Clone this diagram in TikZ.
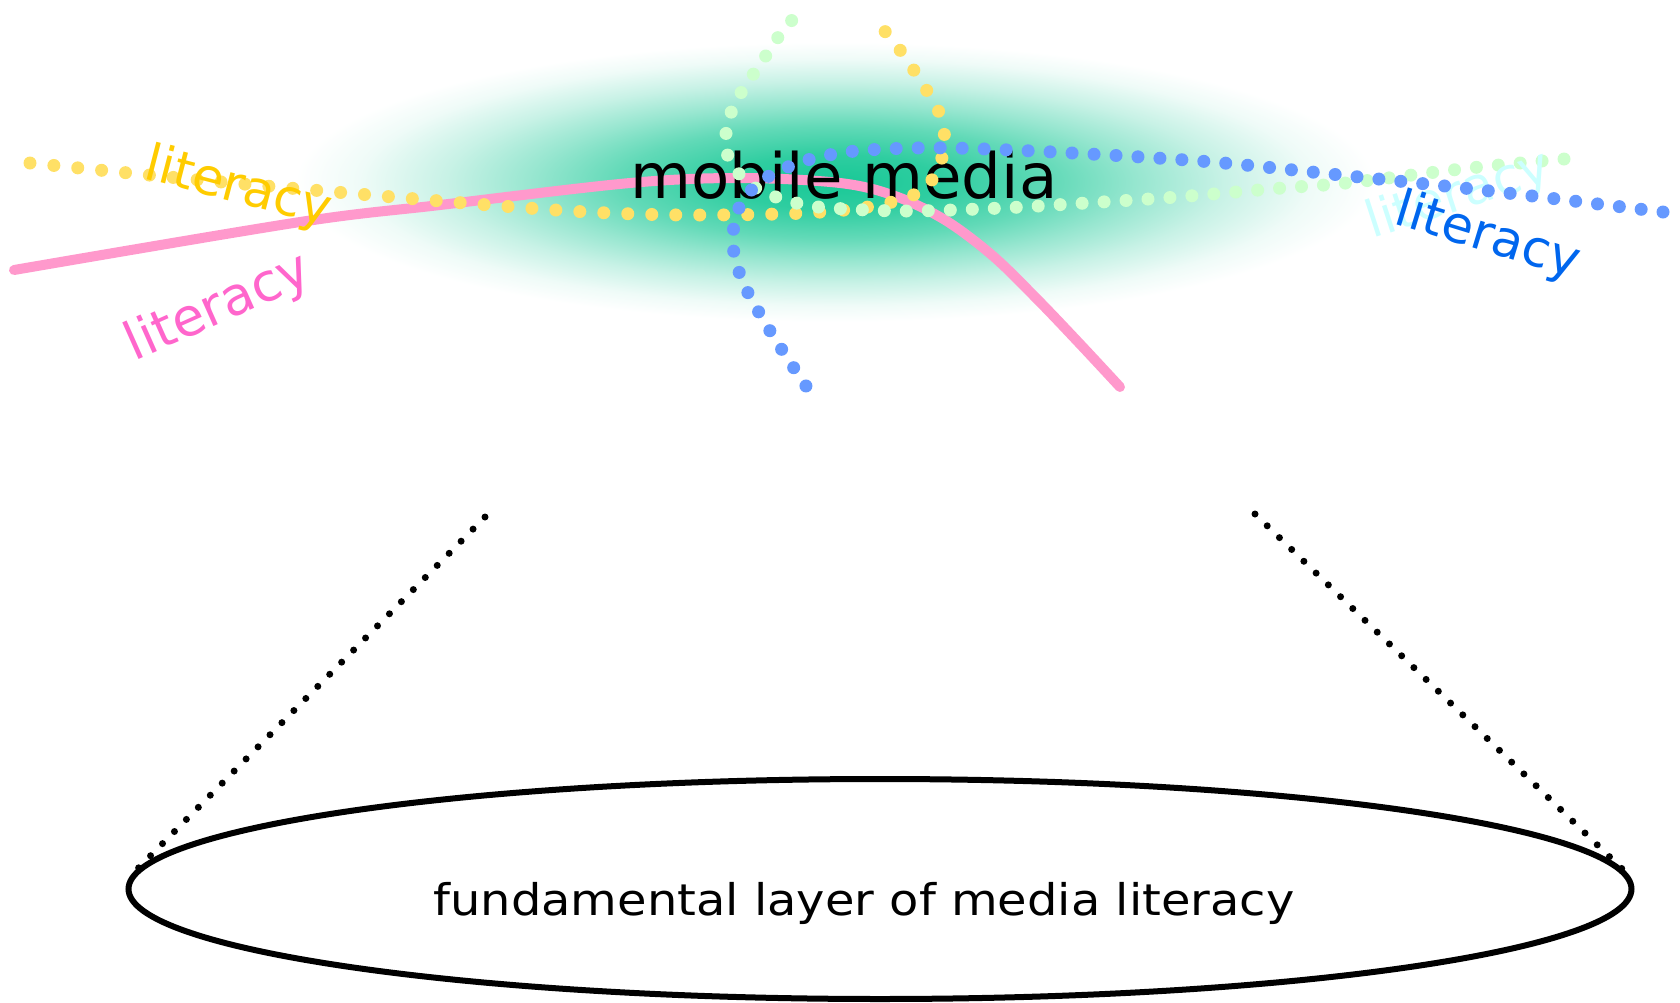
\documentclass[tikz,border=0pt]{standalone}
\usepackage{fontspec}
\setmainfont{DejaVu Sans}
\usetikzlibrary{shapes.geometric}

\definecolor{glowc}{RGB}{24,200,150}
\definecolor{pinkline}{HTML}{FF99CC}
\definecolor{pinktext}{HTML}{FF66CC}
\definecolor{yellowdot}{HTML}{FFE066}
\definecolor{yellowtext}{HTML}{FFCC00}
\definecolor{bluedot}{HTML}{6699FF}
\definecolor{bluetext}{HTML}{0066EE}
\definecolor{greendot}{HTML}{CCFFCC}
\definecolor{cyantext}{HTML}{CCFFFF}

% soft teal halo behind the title (fades out by 25bp, the path edge)
\pgfdeclareradialshading{glowshade}{\pgfpoint{0bp}{0bp}}{%
  color(0bp)=(glowc); color(5bp)=(glowc!90!white); color(10bp)=(glowc!68!white);
  color(14bp)=(glowc!45!white); color(18bp)=(glowc!24!white);
  color(22bp)=(glowc!7!white); color(25bp)=(white); color(50bp)=(white)}

\tikzset{
  dotline/.style={line cap=round, line width=1.3mm, dash pattern=on 0pt off #1},
  strand/.style={smooth, tension=0.55},
  lit/.style={font=\fontsize{14.5}{17}\selectfont, anchor=base west, inner sep=0pt},
  blackdots/.style={line cap=round, line width=0.7mm, dash pattern=on 0pt off 1.7mm},
}

\begin{document}
\begin{tikzpicture}[x=0.1mm, y=-0.1mm]
\useasboundingbox (0,0) rectangle (1680,1003);

% halo
\shade[shading=glowshade] (835,182) ellipse [x radius=54mm, y radius=14mm];

% solid pink strand
\draw[pinkline, line width=1.0mm, line cap=round]
  plot[strand] coordinates {(14,270) (300,222) (440,205) (630,183) (740,178)
    (840,183) (895,196) (945,220) (993,256) (1038,300) (1080,344) (1120,387)};

% title
\node[font=\fontsize{17.8}{21}\selectfont, anchor=base, inner sep=0pt] (title) at (844,198) {mobile media};

% dotted strands
\draw[yellowdot, dotline=2.4mm]
  plot[strand] coordinates {(30,163) (200,180) (370,195) (489,205) (588,212)
    (686,215) (805,213) (879,205) (925,188) (944,150) (940,115) (922,83) (900,50) (877,22)};

\draw[greendot, dotline=2.2mm]
  plot[strand] coordinates {(1564,159) (1470,168) (1346,183) (1282,188) (1177,197)
    (1086,203) (1002,208) (911,211) (847,209) (805,205) (763,192) (740,175)
    (726,150) (728,122) (736,102) (747,83) (760,65) (776,40) (798,13)};

\node[lit, cyantext, rotate=18] (litcyan) at (1372,239) {literacy};

\draw[bluedot, dotline=2.2mm]
  plot[strand] coordinates {(1663,212) (1490,191) (1340,175) (1212,162) (1072,153)
    (953,148) (885,149) (840,153) (798,163) (760,182) (738,210) (733,245)
    (742,280) (761,316) (784,353) (808,389)};

% strand labels
\node[lit, yellowtext, rotate=-14.5] (lityellow) at (142,178) {literacy};
\node[lit, pinktext, rotate=24, font=\fontsize{15}{18}\selectfont] (litpink) at (134,362) {literacy};
\node[lit, bluetext, rotate=-17] (litblue) at (1392,223) {literacy};

% base layer
\node[ellipse, draw, line width=0.6mm, minimum width=150.3mm, minimum height=22mm,
      inner sep=0pt] (base) at (880,889) {};
\node[font=\fontsize{12.4}{15}\selectfont, anchor=base, inner sep=0pt] (baselabel)
  at (864,915) {\scalebox{1.1}[1]{fundamental layer of media literacy}};

% funnel edges
\coordinate (lt) at (485,517);
\coordinate (rt) at (1255,514);
\draw[blackdots] (lt) -- (base.179);
\draw[blackdots] (rt) -- (base.1);
\end{tikzpicture}
\end{document}
